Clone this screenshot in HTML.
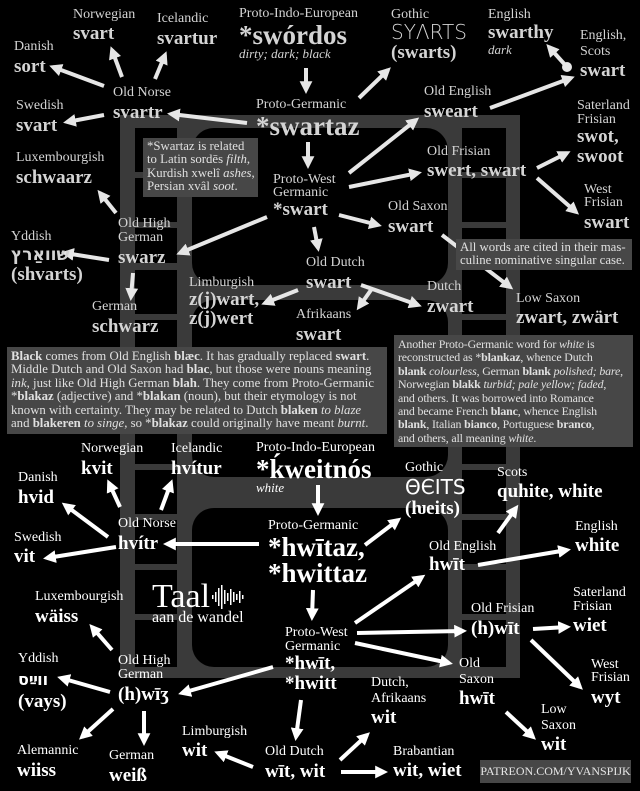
<!DOCTYPE html>
<html><head><meta charset="utf-8">
<style>
html,body{margin:0;padding:0;background:#000;}
#c{position:relative;width:640px;height:791px;overflow:hidden;background:#000;font-family:"Liberation Serif",serif;color:#d4d4d4;}
#c div{position:absolute;white-space:nowrap;}
.l{font-family:"Liberation Serif",serif;font-size:14px;line-height:16px;}
.b{font-family:"Liberation Serif",serif;font-size:19px;line-height:20px;font-weight:bold;}
.B{font-family:"Liberation Serif",serif;font-size:27px;line-height:28px;font-weight:bold;}
.i{font-family:"Liberation Serif",serif;font-size:13px;line-height:16px;font-style:italic;}
.w{color:#fff;}
.box{font-family:"Liberation Serif",serif;background:#474747;color:#e0e0e0;font-size:12.8px;line-height:13.4px;padding:0 4px;box-sizing:border-box;}
svg{position:absolute;left:0;top:0;}
</style></head><body>
<div id="c">
<svg width="640" height="791" viewBox="0 0 640 791">
<defs>
<marker id="a" markerWidth="3.2" markerHeight="3.2" refX="2.2" refY="1.6" orient="auto" markerUnits="strokeWidth"><path d="M0,0 L3.2,1.6 L0,3.2 z" fill="#e6e6e6"/></marker>
<marker id="aw" markerWidth="3.2" markerHeight="3.2" refX="2.2" refY="1.6" orient="auto" markerUnits="strokeWidth"><path d="M0,0 L3.2,1.6 L0,3.2 z" fill="#fff"/></marker>
</defs>
<rect x="120" y="115" width="400" height="563" fill="#3a3a3a"/>
<rect x="192" y="128" width="256" height="157" rx="22" fill="#000"/>
<rect x="192" y="300" width="256" height="177" rx="22" fill="#000"/>
<rect x="192" y="508" width="256" height="159" rx="22" fill="#000"/>
<g fill="#000">
<rect x="135" y="128" width="42" height="44"/><rect x="135" y="178" width="42" height="44"/><rect x="135" y="228" width="42" height="35"/><rect x="135" y="270" width="42" height="44"/><rect x="135" y="320" width="42" height="44"/><rect x="135" y="370" width="42" height="44"/><rect x="135" y="420" width="42" height="44"/><rect x="135" y="470" width="42" height="44"/><rect x="135" y="520" width="42" height="44"/><rect x="135" y="570" width="42" height="44"/><rect x="135" y="620" width="42" height="47"/>
<rect x="462" y="128" width="44" height="44"/><rect x="462" y="178" width="44" height="44"/><rect x="462" y="228" width="44" height="35"/><rect x="462" y="270" width="44" height="44"/><rect x="462" y="320" width="44" height="44"/><rect x="462" y="370" width="44" height="44"/><rect x="462" y="420" width="44" height="44"/><rect x="462" y="470" width="44" height="44"/><rect x="462" y="520" width="44" height="44"/><rect x="462" y="570" width="44" height="44"/><rect x="462" y="620" width="44" height="47"/>
</g>
<g stroke="#e6e6e6" stroke-width="4" marker-end="url(#a)">
<line x1="306" y1="68" x2="306" y2="90"/>
<line x1="359" y1="98" x2="388" y2="70"/>
<line x1="247" y1="123" x2="171" y2="114"/>
<line x1="104" y1="86" x2="53" y2="67"/>
<line x1="122" y1="77" x2="112" y2="50"/>
<line x1="155" y1="79" x2="165" y2="55"/>
<line x1="104" y1="115" x2="67" y2="122"/>
<line x1="308" y1="142" x2="308" y2="165"/>
<line x1="349" y1="173" x2="416" y2="120"/>
<line x1="349" y1="187" x2="418" y2="173"/>
<line x1="490" y1="108" x2="571" y2="78"/>
<line x1="567" y1="67" x2="549" y2="47"/>
<line x1="537" y1="168" x2="567" y2="153"/>
<line x1="537" y1="178" x2="576" y2="212"/>
<line x1="339" y1="215" x2="378" y2="225"/>
<line x1="267" y1="217" x2="180" y2="253"/>
<line x1="314" y1="227" x2="318" y2="248"/>
<line x1="116" y1="213" x2="100" y2="193"/>
<line x1="109" y1="260" x2="65" y2="253"/>
<line x1="133" y1="273" x2="131" y2="297"/>
<line x1="442" y1="235" x2="510" y2="287"/>
<line x1="298" y1="290" x2="265" y2="303"/>
<line x1="371" y1="290" x2="359" y2="307"/>
<line x1="361" y1="285" x2="418" y2="305"/>
</g>
<circle cx="567" cy="67" r="5" fill="#e6e6e6"/>
<g stroke="#fff" stroke-width="4" marker-end="url(#aw)">
<line x1="318" y1="485" x2="318" y2="512"/>
<line x1="365" y1="545" x2="398" y2="520"/>
<line x1="259" y1="544" x2="167" y2="544"/>
<line x1="108" y1="537" x2="65" y2="505"/>
<line x1="120" y1="507" x2="109" y2="483"/>
<line x1="161" y1="510" x2="171" y2="483"/>
<line x1="116" y1="547" x2="47" y2="558"/>
<line x1="313" y1="590" x2="312" y2="617"/>
<line x1="355" y1="623" x2="422" y2="577"/>
<line x1="357" y1="633" x2="463" y2="631"/>
<line x1="355" y1="643" x2="449" y2="663"/>
<line x1="498" y1="533" x2="516" y2="508"/>
<line x1="478" y1="565" x2="567" y2="550"/>
<line x1="533" y1="629" x2="567" y2="627"/>
<line x1="531" y1="640" x2="580" y2="687"/>
<line x1="506" y1="712" x2="533" y2="737"/>
<line x1="273" y1="667" x2="182" y2="693"/>
<line x1="301" y1="700" x2="296" y2="737"/>
<line x1="112" y1="650" x2="92" y2="627"/>
<line x1="110" y1="692" x2="61" y2="678"/>
<line x1="113" y1="709" x2="82" y2="737"/>
<line x1="144" y1="711" x2="144" y2="742"/>
<line x1="253" y1="767" x2="218" y2="753"/>
<line x1="340" y1="760" x2="367" y2="735"/>
<line x1="341" y1="772" x2="384" y2="772"/>
</g>
<g fill="#fff">
<rect x="212" y="595" width="1.5" height="4"/><rect x="215" y="592" width="1.5" height="10"/><rect x="218" y="588" width="1.5" height="18"/><rect x="221" y="585" width="1.5" height="24"/><rect x="224" y="590" width="1.5" height="14"/><rect x="227" y="593" width="1.5" height="8"/><rect x="230" y="589" width="1.5" height="16"/><rect x="233" y="592" width="1.5" height="10"/><rect x="236" y="594" width="1.5" height="6"/><rect x="239" y="591" width="1.5" height="12"/><rect x="242" y="595" width="1.5" height="4"/>
</g>
</svg>

<!-- TOP -->
<div class="l" style="left:73px;top:7px">Norwegian</div><div class="b" style="left:73px;top:24px">svart</div>
<div class="l" style="left:157px;top:11px">Icelandic</div><div class="b" style="left:157px;top:29px">svartur</div>
<div class="l" style="left:239px;top:6px">Proto-Indo-European</div><div class="B" style="left:239px;top:21px">*swórdos</div><div class="i" style="left:239px;top:46px">dirty; dark; black</div>
<div class="l" style="left:391px;top:7px">Gothic</div><div style="left:391px;top:21px;font-size:20px;line-height:22px;font-family:'DejaVu Sans',sans-serif;font-weight:300">SYΛRTS</div><div class="b" style="left:391px;top:43px">(swarts)</div>
<div class="l" style="left:488px;top:7px">English</div><div class="b" style="left:488px;top:23px">swarthy</div><div class="i" style="left:488px;top:42px">dark</div>
<div class="l" style="left:580px;top:28px">English,</div><div class="l" style="left:580px;top:44px">Scots</div><div class="b" style="left:580px;top:61px">swart</div>
<div class="l" style="left:14px;top:39px">Danish</div><div class="b" style="left:14px;top:57px">sort</div>
<div class="l" style="left:113px;top:85px">Old Norse</div><div class="b" style="left:113px;top:103px">svartr</div>
<div class="l" style="left:16px;top:98px">Swedish</div><div class="b" style="left:16px;top:116px">svart</div>
<div class="l" style="left:256px;top:97px">Proto-Germanic</div><div class="B" style="left:256px;top:112px">*swartaz</div>
<div class="l" style="left:424px;top:84px">Old English</div><div class="b" style="left:424px;top:102px">sweart</div>
<div class="l" style="left:577px;top:98px">Saterland</div><div class="l" style="left:577px;top:112px">Frisian</div><div class="b" style="left:577px;top:127px">swot,</div><div class="b" style="left:577px;top:147px">swoot</div>
<div class="box" style="left:143px;top:138px;width:115px;height:59px;padding-top:2px">*Swartaz is related<br>to Latin sordēs <i>filth</i>,<br>Kurdish xwelî <i>ashes</i>,<br>Persian xvâl <i>soot</i>.</div>
<div class="l" style="left:16px;top:150px">Luxembourgish</div><div class="b" style="left:16px;top:168px">schwaarz</div>
<div class="l" style="left:427px;top:144px">Old Frisian</div><div class="b" style="left:427px;top:161px">swert, swart</div>
<div class="l" style="left:273px;top:172px">Proto-West</div><div class="l" style="left:273px;top:185px">Germanic</div><div class="b" style="left:273px;top:200px">*swart</div>
<div class="l" style="left:388px;top:199px">Old Saxon</div><div class="b" style="left:388px;top:217px">swart</div>
<div class="l" style="left:584px;top:182px">West</div><div class="l" style="left:584px;top:195px">Frisian</div><div class="b" style="left:584px;top:213px">swart</div>
<div class="l" style="left:118px;top:216px">Old High</div><div class="l" style="left:118px;top:230px">German</div><div class="b" style="left:118px;top:248px">swarz</div>
<div class="l" style="left:11px;top:229px">Yddish</div><div class="b" style="left:11px;top:245px;font-family:'DejaVu Sans',sans-serif;font-size:17px">שוואַרץ</div><div class="b" style="left:11px;top:265px">(shvarts)</div>
<div class="box" style="left:456px;top:239px;width:176px;height:31px;padding-top:2px">All words are cited in their mas-<br>culine nominative singular case.</div>
<div class="l" style="left:306px;top:255px">Old Dutch</div><div class="b" style="left:306px;top:273px">swart</div>
<div class="l" style="left:189px;top:275px">Limburgish</div><div class="b" style="left:189px;top:290px">z(j)wart,</div><div class="b" style="left:189px;top:309px">z(j)wert</div>
<div class="l" style="left:427px;top:279px">Dutch</div><div class="b" style="left:427px;top:297px">zwart</div>
<div class="l" style="left:516px;top:291px">Low Saxon</div><div class="b" style="left:516px;top:308px">zwart, zwärt</div>
<div class="l" style="left:92px;top:299px">German</div><div class="b" style="left:92px;top:317px">schwarz</div>
<div class="l" style="left:296px;top:307px">Afrikaans</div><div class="b" style="left:296px;top:325px">swart</div>
<div class="box" style="left:7px;top:347px;width:380px;height:87px;padding-top:3px"><b>Black</b> comes from Old English <b>blæc</b>. It has gradually replaced <b>swart</b>.<br>Middle Dutch and Old Saxon had <b>blac</b>, but those were nouns meaning<br><i>ink</i>, just like Old High German <b>blah</b>. They come from Proto-Germanic<br>*<b>blakaz</b> (adjective) and *<b>blakan</b> (noun), but their etymology is not<br>known with certainty. They may be related to Dutch <b>blaken</b> <i>to blaze</i><br>and <b>blakeren</b> <i>to singe</i>, so *<b>blakaz</b> could originally have meant <i>burnt</i>.</div>
<div class="box" style="left:394px;top:335px;width:239px;height:112px;padding-top:3px;font-size:11.9px;letter-spacing:-0.15px">Another Proto-Germanic word for <i>white</i> is<br>reconstructed as *<b>blankaz</b>, whence Dutch<br><b>blank</b> <i>colourless</i>, German <b>blank</b> <i>polished; bare</i>,<br>Norwegian <b>blakk</b> <i>turbid; pale yellow; faded</i>,<br>and others. It was borrowed into Romance<br>and became French <b>blanc</b>, whence English<br><b>blank</b>, Italian <b>bianco</b>, Portuguese <b>branco</b>,<br>and others, all meaning <i>white</i>.</div>

<!-- BOTTOM -->
<div class="l w" style="left:81px;top:441px">Norwegian</div><div class="b w" style="left:81px;top:459px">kvit</div>
<div class="l w" style="left:171px;top:441px">Icelandic</div><div class="b w" style="left:171px;top:459px">hvítur</div>
<div class="l w" style="left:256px;top:440px">Proto-Indo-European</div><div class="B w" style="left:256px;top:455px">*ḱweitnós</div><div class="i w" style="left:256px;top:480px">white</div>
<div class="l w" style="left:18px;top:470px">Danish</div><div class="b w" style="left:18px;top:488px">hvid</div>
<div class="l w" style="left:405px;top:460px">Gothic</div><div class="w" style="left:405px;top:476px;font-size:20px;line-height:22px;font-family:'DejaVu Sans',sans-serif">ΘЄΙΤS</div><div class="b w" style="left:405px;top:499px">(ƕeits)</div>
<div class="l w" style="left:497px;top:465px">Scots</div><div class="b w" style="left:497px;top:482px">quhite, white</div>
<div class="l w" style="left:118px;top:516px">Old Norse</div><div class="b w" style="left:118px;top:534px">hvítr</div>
<div class="l w" style="left:14px;top:530px">Swedish</div><div class="b w" style="left:14px;top:547px">vit</div>
<div class="l w" style="left:268px;top:518px">Proto-Germanic</div><div class="B w" style="left:268px;top:533px">*hwītaz,</div><div class="B w" style="left:268px;top:559px">*hwittaz</div>
<div class="l w" style="left:575px;top:519px">English</div><div class="b w" style="left:575px;top:536px">white</div>
<div class="l w" style="left:429px;top:539px">Old English</div><div class="b w" style="left:429px;top:555px">hwīt</div>
<div class="w" style="left:152px;top:578px;font-size:34px;line-height:38px;font-family:'Liberation Serif',serif">Taal</div><div class="w" style="left:152px;top:608px;font-family:'Liberation Serif',serif;font-size:16px;line-height:20px">aan de wandel</div>
<div class="l w" style="left:35px;top:589px">Luxembourgish</div><div class="b w" style="left:35px;top:607px">wäiss</div>
<div class="l w" style="left:573px;top:585px">Saterland</div><div class="l w" style="left:573px;top:599px">Frisian</div><div class="b w" style="left:573px;top:616px">wiet</div>
<div class="l w" style="left:471px;top:601px">Old Frisian</div><div class="b w" style="left:471px;top:619px">(h)wīt</div>
<div class="l w" style="left:285px;top:625px">Proto-West</div><div class="l w" style="left:285px;top:639px">Germanic</div><div class="b w" style="left:285px;top:654px">*hwīt,</div><div class="b w" style="left:285px;top:674px">*hwitt</div>
<div class="l w" style="left:18px;top:651px">Yddish</div><div class="b w" style="left:18px;top:670px;font-family:'DejaVu Sans',sans-serif;font-size:16px">ווײַס</div><div class="b w" style="left:18px;top:692px">(vays)</div>
<div class="l w" style="left:118px;top:653px">Old High</div><div class="l w" style="left:118px;top:667px">German</div><div class="b w" style="left:118px;top:685px">(h)wīʒ</div>
<div class="l w" style="left:591px;top:657px">West</div><div class="l w" style="left:591px;top:670px">Frisian</div><div class="b w" style="left:591px;top:688px">wyt</div>
<div class="l w" style="left:459px;top:656px">Old</div><div class="l w" style="left:459px;top:672px">Saxon</div><div class="b w" style="left:459px;top:689px">hwīt</div>
<div class="l w" style="left:371px;top:675px">Dutch,</div><div class="l w" style="left:371px;top:691px">Afrikaans</div><div class="b w" style="left:371px;top:708px">wit</div>
<div class="l w" style="left:541px;top:702px">Low</div><div class="l w" style="left:541px;top:718px">Saxon</div><div class="b w" style="left:541px;top:735px">wit</div>
<div class="l w" style="left:182px;top:724px">Limburgish</div><div class="b w" style="left:182px;top:741px">wit</div>
<div class="l w" style="left:17px;top:743px">Alemannic</div><div class="b w" style="left:17px;top:761px">wiiss</div>
<div class="l w" style="left:109px;top:748px">German</div><div class="b w" style="left:109px;top:766px">weiß</div>
<div class="l w" style="left:265px;top:744px">Old Dutch</div><div class="b w" style="left:265px;top:762px">wīt, wit</div>
<div class="l w" style="left:393px;top:744px">Brabantian</div><div class="b w" style="left:393px;top:761px">wit, wiet</div>
<div style="left:480px;top:760px;width:151px;height:23px;background:#474747;color:#e6e6e6;font-family:'Liberation Serif',serif;font-size:12px;line-height:23px;text-align:center">PATREON.COM/YVANSPIJK</div>
</div>
</body></html>
